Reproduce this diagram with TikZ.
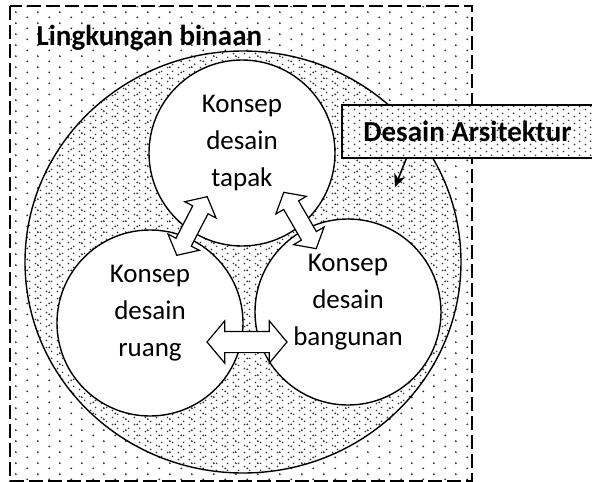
\documentclass[tikz,border=0pt]{standalone}
\usepackage{fontspec}
\setmainfont{Carlito}
\usetikzlibrary{shapes.arrows,patterns,arrows.meta}

% dot fills, drawn as two staggered dots per tile
\pgfdeclarepatternformonly{sparsedots}{\pgfqpoint{0pt}{0pt}}{\pgfqpoint{22pt}{10.7pt}}{\pgfqpoint{22pt}{10.7pt}}{
  \pgfpathcircle{\pgfqpoint{5.5pt}{2.675pt}}{1.1pt}
  \pgfpathcircle{\pgfqpoint{16.5pt}{8.025pt}}{1.1pt}
  \pgfusepath{fill}
}
\pgfdeclarepatternformonly{densedots}{\pgfqpoint{0pt}{0pt}}{\pgfqpoint{11pt}{7pt}}{\pgfqpoint{11pt}{7pt}}{
  \pgfpathcircle{\pgfqpoint{2.75pt}{1.75pt}}{0.95pt}
  \pgfpathcircle{\pgfqpoint{8.25pt}{5.25pt}}{0.95pt}
  \pgfusepath{fill}
}

\tikzset{
  envbox/.style={dash pattern=on 14pt off 5pt, line width=1.2pt, pattern=sparsedots, pattern color=black!80},
  zone/.style={line width=1.4pt, pattern=densedots, pattern color=black!80},
  konsep/.style={circle, draw, fill=white, line width=1.4pt, minimum size=186pt, inner sep=0pt},
  konseptext/.style={align=center, font=\fontsize{27pt}{37pt}\selectfont},
  titletext/.style={font=\bfseries\fontsize{29pt}{32pt}\selectfont},
  dabox/.style={rectangle, draw, line width=1.4pt, preaction={fill=white}, pattern=densedots, pattern color=black!80,
    minimum width=251pt, minimum height=53pt, inner sep=0pt, font=\bfseries\fontsize{29pt}{32pt}\selectfont},
  dblarrow/.style={double arrow, draw, fill=white, line width=1.2pt, double arrow tip angle=100},
  ptr/.style={line width=1.5pt, -{Stealth[length=13pt,width=12pt]}}
}

\begin{document}
\begin{tikzpicture}[x=1pt,y=-1pt]

\clip (0,0) rectangle (592,482);

% lingkungan
\draw[envbox] (10,6) rectangle (472,481);
\node[titletext, anchor=base west] (lingk) at (33,45) {Lingkungan binaan};

% desain arsitektur
\draw[zone] (243,262) ellipse [x radius=218pt, y radius=211pt];

\node[konsep] (tapak) at (242,153) {};
\node[konsep] (ruang) at (150,323) {};
\node[konsep] (bangunan) at (348,312) {};

\node[konseptext] (ttapak) at ([yshift=10pt]tapak.center) {Konsep\\desain\\tapak};
\node[konseptext] (truang) at ([yshift=10pt]ruang.center) {Konsep\\desain\\ruang};
\node[konseptext] (tbangunan) at ([yshift=10pt]bangunan.center) {Konsep\\desain\\bangunan};

% hubungan
\node[dblarrow, inner xsep=0pt, inner ysep=8pt, double arrow head extend=9pt, minimum height=66pt, rotate=62.6] (ar1) at (192,226) {};
\node[dblarrow, inner xsep=0pt, inner ysep=8pt, double arrow head extend=9pt, minimum height=65pt, rotate=120] (ar2) at (300,220.5) {};
\node[dblarrow, inner xsep=0pt, inner ysep=10pt, double arrow head extend=10.5pt, minimum height=80pt] (ar3) at (247,342) {};

\node[dabox] (desain) at (467.5,131.5) {Desain Arsitektur};
\coordinate (tipda) at (395,187);
\draw[ptr] ([xshift=65pt]desain.south west) -- (tipda);

\end{tikzpicture}
\end{document}
